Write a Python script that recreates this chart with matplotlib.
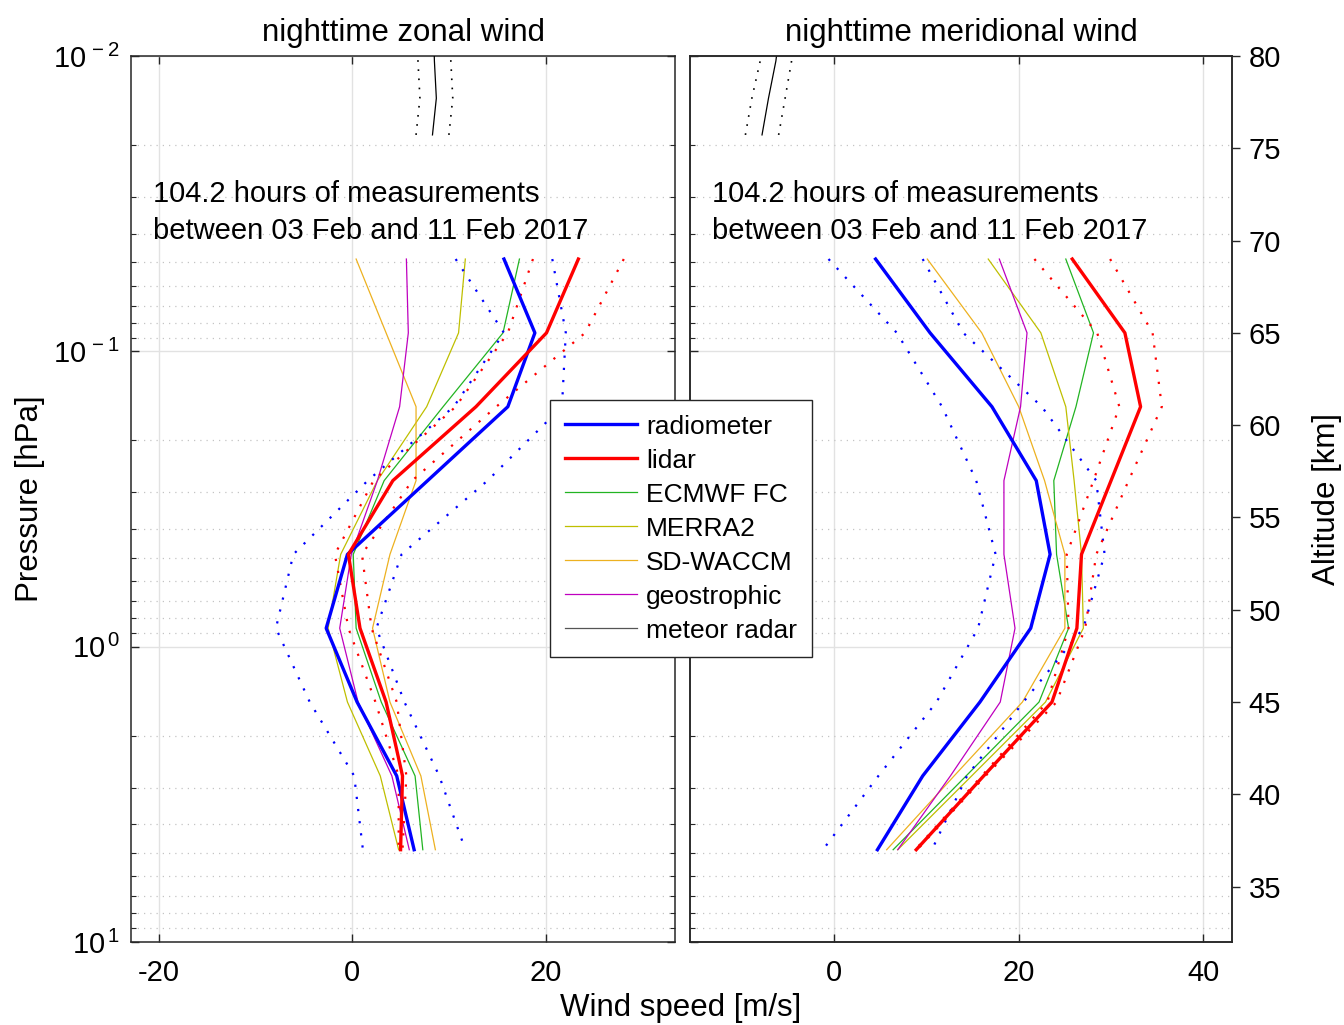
import matplotlib
matplotlib.use("Agg")
import matplotlib.pyplot as plt
from matplotlib.ticker import LogLocator, NullFormatter, FixedLocator

plt.rcParams["font.family"] = ["Liberation Sans", "DejaVu Sans"]
plt.rcParams["mathtext.fontset"] = "custom"
plt.rcParams["mathtext.rm"] = "Liberation Sans"
plt.rcParams["mathtext.it"] = "Liberation Sans"
plt.rcParams["axes.unicode_minus"] = False

# profile levels (hPa), top (~69 km) to bottom (~37 km)
pressure_hpa = [0.0487, 0.0866, 0.154, 0.274, 0.487, 0.866, 1.54, 2.74, 4.87]

# zonal wind [m/s]
radiometer_u = [15.7, 18.9, 16.1, 7.8, -0.5, -2.7, 0.5, 4.6, 6.4]
radiometer_u_err = [5.0, 3.2, 5.6, 6.2, 5.6, 5.2, 4.9, 4.4, 5.3]
lidar_u = [23.4, 20.1, 12.8, 4.2, -0.4, 0.8, 3.5, 5.2, 5.0]
lidar_u_err = [4.7, 4.0, 2.1, 2.0, 1.4, 1.2, 1.1, 0.4, 0.2]
ecmwf_u = [17.3, 15.6, 9.4, 3.3, 0.1, 0.4, 3.0, 6.5, 7.3]
merra2_u = [11.7, 11.0, 7.7, 2.6, -1.2, -2.5, -0.5, 2.9, 4.8]
waccm_u = [0.4, 3.5, 6.6, 6.6, 3.9, 2.1, 3.9, 7.1, 8.6]
geo_u = [5.6, 5.8, 4.9, 2.6, -0.1, -1.3, 0.6, 4.1, 5.9]

# meridional wind [m/s]
radiometer_v = [4.5, 10.4, 17.1, 21.9, 23.4, 21.3, 15.8, 9.6, 4.7]
radiometer_v_err = [5.1, 3.6, 5.4, 6.5, 5.9, 5.7, 4.7, 4.8, 5.9]
lidar_v = [25.8, 31.5, 33.2, 30.0, 26.8, 26.3, 23.6, 16.2, 8.9]
lidar_v_err = [4.1, 3.0, 2.3, 1.9, 1.6, 0.9, 0.5, 0.2, 0.1]
ecmwf_v = [25.1, 28.1, 26.2, 23.8, 24.1, 25.4, 22.2, 14.3, 6.4]
merra2_v = [16.7, 22.4, 25.1, 26.0, 26.8, 27.0, 22.9, 14.9, 6.9]
waccm_v = [10.1, 16.0, 20.0, 22.8, 25.0, 25.0, 20.4, 13.0, 5.7]
geo_v = [17.9, 20.9, 20.2, 18.4, 18.4, 19.6, 18.0, 12.6, 6.9]

# meteor radar
meteor_p = [0.0185, 0.0139, 0.0104, 0.0078]
meteor_u = [8.3, 8.7, 8.5, 8.4]
meteor_u_err = [1.7, 1.7, 1.7, 1.7]
meteor_v = [-7.8, -7.1, -6.3, -5.8]
meteor_v_err = [1.8, 1.8, 1.7, 1.7]

labels = ["radiometer", "lidar", "ECMWF FC", "MERRA2", "SD-WACCM",
          "geostrophic", "meteor radar"]
note = "104.2 hours of measurements\nbetween 03 Feb and 11 Feb 2017"

DARK = "#262626"
DOT = (0, (1, 4.5))


def shifted(vals, errs, sign):
    return [v + sign * e for v, e in zip(vals, errs)]


def draw_panel(ax, rad, rad_err, lid, lid_err, ecm, mer, wac, geo, met, met_err):
    h_ecm, = ax.plot(ecm, pressure_hpa, color="#22b422", lw=0.9, zorder=3)
    h_mer, = ax.plot(mer, pressure_hpa, color="#bfbf00", lw=0.9, zorder=3)
    h_wac, = ax.plot(wac, pressure_hpa, color="#edb120", lw=0.9, zorder=3)
    h_geo, = ax.plot(geo, pressure_hpa, color="#bf00bf", lw=0.9, zorder=3)
    for s in (-1, 1):
        ax.plot(shifted(rad, rad_err, s), pressure_hpa, color="#0000ff",
                lw=1.6, ls=DOT, zorder=4)
        ax.plot(shifted(lid, lid_err, s), pressure_hpa, color="#ff0000",
                lw=1.6, ls=DOT, zorder=4)
        ax.plot(shifted(met, met_err, s), meteor_p, color="k",
                lw=1.2, ls=DOT, zorder=4)
    h_rad, = ax.plot(rad, pressure_hpa, color="#0000ff", lw=2.4, zorder=5)
    h_lid, = ax.plot(lid, pressure_hpa, color="#ff0000", lw=2.4, zorder=5)
    h_met, = ax.plot(met, meteor_p, color="k", lw=0.9, zorder=4)

    ax.set_yscale("log")
    ax.set_ylim(10, 0.01)
    ax.yaxis.set_major_locator(FixedLocator([0.01, 0.1, 1, 10]))
    ax.yaxis.set_minor_locator(LogLocator(base=10, subs=range(2, 10)))
    ax.yaxis.set_minor_formatter(NullFormatter())
    ax.grid(which="major", color="#e2e2e2", lw=1.0, ls="-", zorder=0)
    ax.grid(which="minor", axis="y", color="#c4c4c4", lw=0.9,
            ls=(0, (1, 4)), zorder=0)
    ax.tick_params(which="both", direction="in", top=True, right=True,
                   colors=DARK, labelsize=21, labelcolor="k")
    ax.tick_params(which="major", length=6, width=1)
    ax.tick_params(which="minor", length=3.5, width=0.8)
    ax.tick_params(axis="x", pad=12)
    ax.tick_params(axis="y", pad=8)
    for sp in ax.spines.values():
        sp.set_color(DARK)
        sp.set_linewidth(1.1)
    ax.text(0.04, 0.86, note, transform=ax.transAxes, fontsize=21,
            va="top", ha="left", linespacing=1.42, zorder=6)
    return [h_rad, h_lid, h_ecm, h_mer, h_wac, h_geo, h_met]


fig = plt.figure(figsize=(13.44, 10.25), dpi=100)
ax_u = fig.add_axes([131 / 1344, 83 / 1025, 544 / 1344, 886 / 1025])
ax_v = fig.add_axes([690 / 1344, 83 / 1025, 542 / 1344, 886 / 1025],
                    sharey=ax_u)

handles = draw_panel(ax_u, radiometer_u, radiometer_u_err, lidar_u, lidar_u_err,
                     ecmwf_u, merra2_u, waccm_u, geo_u, meteor_u, meteor_u_err)
draw_panel(ax_v, radiometer_v, radiometer_v_err, lidar_v, lidar_v_err,
           ecmwf_v, merra2_v, waccm_v, geo_v, meteor_v, meteor_v_err)

ax_u.set_xlim(-22.9, 33.4)
ax_u.set_xticks([-20, 0, 20])
ax_v.set_xlim(-15.6, 43.1)
ax_v.set_xticks([0, 20, 40])

ax_u.set_yticklabels([r"$10^{\,-2}$", r"$10^{\,-1}$", r"$10^{\,0}$", r"$10^{\,1}$"])
ax_v.tick_params(axis="y", labelleft=False)

ax_u.set_title("nighttime zonal wind", fontsize=22.5, pad=11)
ax_v.set_title("nighttime meridional wind", fontsize=22.5, pad=11)
ax_u.set_ylabel("Pressure [hPa]", fontsize=22.5, labelpad=6)

ax_alt = ax_v.twinx()
ax_alt.set_ylim(32, 80)
ax_alt.set_yticks(range(35, 81, 5))
ax_alt.tick_params(direction="out", length=6, width=1, colors=DARK,
                   labelsize=21, labelcolor="k", pad=6)
for sp in ax_alt.spines.values():
    sp.set_color(DARK)
    sp.set_linewidth(1.1)
ax_alt.set_ylabel("Altitude [km]", fontsize=22.5, labelpad=22)

fig.text(681 / 1344, 1 - 1008 / 1025, "Wind speed [m/s]", fontsize=22.5,
         ha="center", va="center")

leg = fig.legend(handles, labels, loc="upper left",
                 bbox_to_anchor=(550 / 1344, 1 - 400 / 1025),
                 fontsize=19, handlelength=2.75, handletextpad=0.35,
                 labelspacing=0.38, borderpad=0.55, borderaxespad=0,
                 fancybox=False, framealpha=1, edgecolor=DARK)
leg.get_frame().set_linewidth(1.0)
leg.get_lines()[-1].set_color("#555555")

fig.savefig("out.png", dpi=100)
